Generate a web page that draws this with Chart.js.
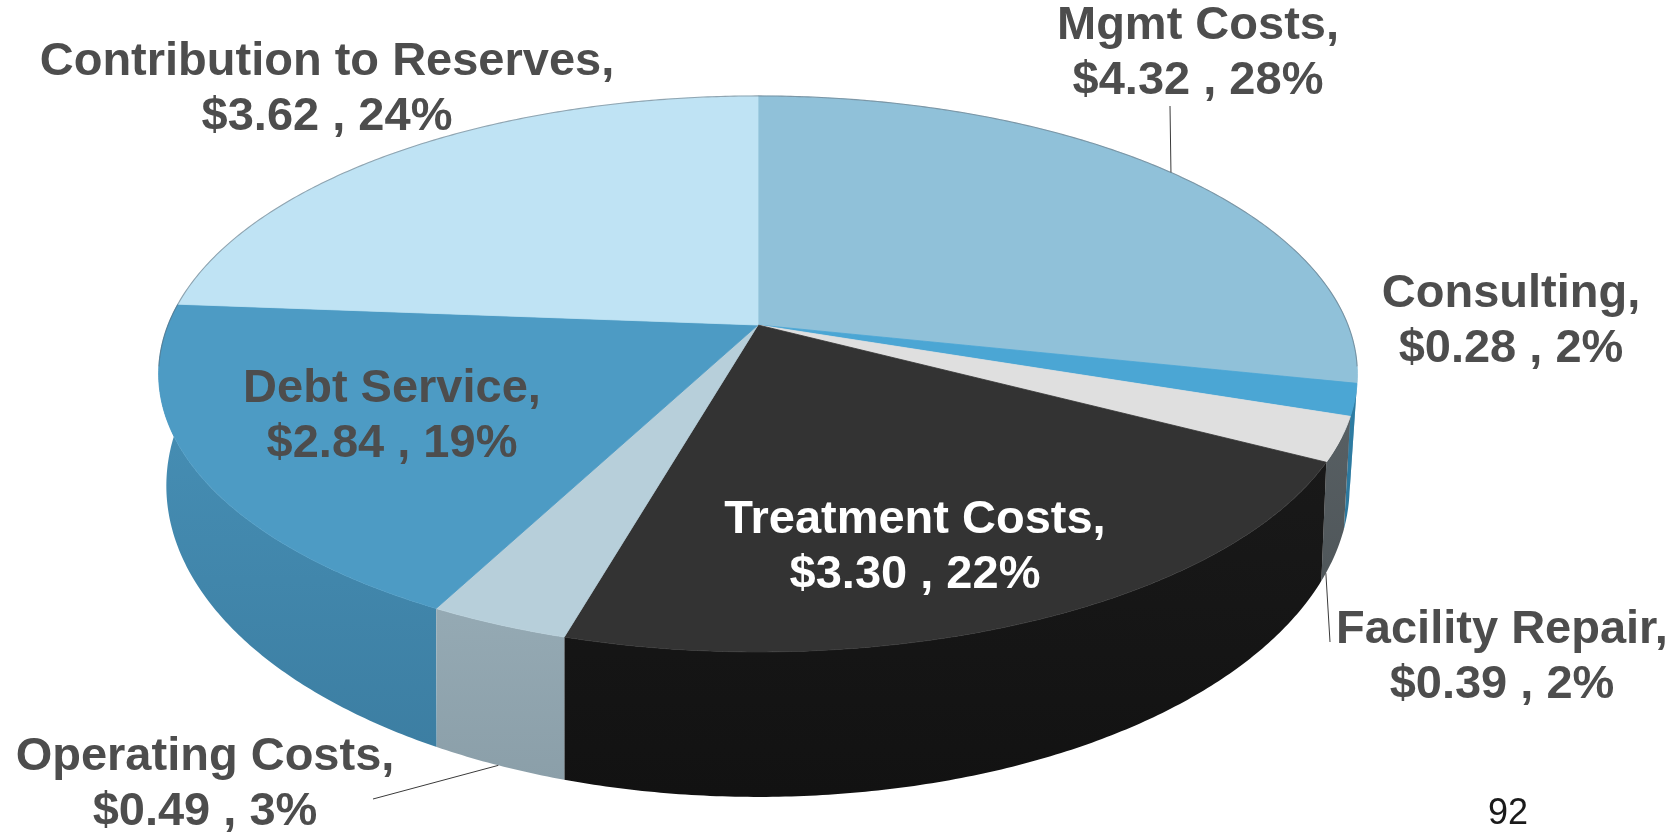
<!DOCTYPE html>
<html>
<head>
<meta charset="utf-8">
<script src="https://cdn.jsdelivr.net/npm/chart.js@4/dist/chart.umd.min.js"></script>
<style>
  html, body { margin: 0; padding: 0; background: #ffffff; overflow: hidden; }
  canvas { display: block; }
</style>
</head>
<body>
<canvas id="pie" width="1672" height="837"></canvas>
<script>
// Annual cost breakdown ($ millions) and the shares printed beside each slice
const categories = ['Mgmt Costs', 'Consulting', 'Facility Repair', 'Treatment Costs',
                    'Operating Costs', 'Debt Service', 'Contribution to Reserves'];
const costs = [4.32, 0.28, 0.39, 3.30, 0.49, 2.84, 3.62];
const sharePercents = [28, 2, 2, 22, 3, 19, 24];
const pageNumber = '92';

// Slice styling: upper face colour and outer wall colours (upper / lower shade)
const faceColors = ['#90c1d9', '#4ba6d4', '#dfdfdf', '#333333', '#b7cfda', '#4d9bc4', '#bfe3f4'];
const wallColors = [
  ['#7fb2cc', '#6fa2bd'],
  ['#2f7fa6', '#27698a'],
  ['#5a6266', '#454b4e'],
  ['#1b1b1b', '#121212'],
  ['#a3b9c3', '#8a9ea8'],
  ['#4790b6', '#3b7ca0'],
  ['#a9d0e2', '#96bfd2']
];
const labelColors = ['#4d4d4d', '#4d4d4d', '#4d4d4d', '#ffffff', '#4d4d4d', '#4d4d4d', '#4d4d4d'];

// Tilted-disc projection: upper and lower rims of the pie
const rims = {
  top:    { dy: 0,   rx: 590, ry: 269.4, k: 0.176 },
  bottom: { dy: 102, rx: 581, ry: 300,   k: 0.189 }
};
function rimPoint(rim, cx, cy, a) {
  const s = Math.sin(a), c = Math.cos(a);
  const d = 1 - rim.k * s;
  return [cx + rim.rx * c / d, cy + rim.dy + rim.ry * s / d];
}

// Label anchors (centre x, first baseline) and leader-line ends
const labelLayout = {
  anchors: [[1198, 39], [1511, 307], [1502, 643], [915, 533], [205, 770], [392, 402], [327, 75]],
  lineGap: 55,
  leaders: {
    0: { from: [1170, 106], rim: 'top', at: 0.5 },
    2: { from: [1330, 642], rim: 'bottom', at: 0.85 },
    4: { from: [373, 799], rim: 'bottom', at: 0.5 }
  }
};

const STEP = Math.PI / 360;

function tracePath(ctx, rim, cx, cy, a0, a1, first) {
  const n = Math.max(2, Math.ceil(Math.abs(a1 - a0) / STEP));
  for (let j = 0; j <= n; j++) {
    const a = a0 + (a1 - a0) * j / n;
    const p = rimPoint(rim, cx, cy, a);
    if (j === 0 && first) ctx.moveTo(p[0], p[1]); else ctx.lineTo(p[0], p[1]);
  }
}

const pie3d = {
  id: 'pie3d',
  beforeDatasetsDraw(chart) {
    const ctx = chart.ctx;
    const arcs = chart.getDatasetMeta(0).data;
    const cx = arcs[0].x, cy = arcs[0].y;
    const wallFrom = -0.3, wallTo = Math.PI + 0.3;

    // outer walls, farthest first
    const walls = [];
    arcs.forEach((arc, i) => {
      const a0 = Math.max(arc.startAngle, wallFrom);
      const a1 = Math.min(arc.endAngle, wallTo);
      if (a1 > a0) walls.push({ i, a0, a1, depth: Math.sin((a0 + a1) / 2) });
    });
    walls.sort((p, q) => p.depth - q.depth);
    walls.forEach(w => {
      ctx.beginPath();
      tracePath(ctx, rims.top, cx, cy, w.a0, w.a1, true);
      tracePath(ctx, rims.bottom, cx, cy, w.a1, w.a0, false);
      ctx.closePath();
      const g = ctx.createLinearGradient(0, cy + 40, 0, cy + 470);
      g.addColorStop(0, wallColors[w.i][0]);
      g.addColorStop(1, wallColors[w.i][1]);
      ctx.fillStyle = g;
      ctx.fill();
    });

    // upper faces
    arcs.forEach((arc, i) => {
      ctx.beginPath();
      ctx.moveTo(cx, cy);
      tracePath(ctx, rims.top, cx, cy, arc.startAngle, arc.endAngle, false);
      ctx.closePath();
      ctx.fillStyle = faceColors[i];
      ctx.fill();
      ctx.strokeStyle = faceColors[i];
      ctx.lineWidth = 0.8;
      ctx.stroke();
    });

    // thin rim along the far edge
    ctx.beginPath();
    tracePath(ctx, rims.top, cx, cy, Math.PI - 0.15, 2 * Math.PI + 0.15, true);
    ctx.strokeStyle = 'rgba(90,100,110,0.5)';
    ctx.lineWidth = 1.1;
    ctx.stroke();
    return false;
  },
  afterDraw(chart) {
    const ctx = chart.ctx;
    const arcs = chart.getDatasetMeta(0).data;
    const cx = arcs[0].x, cy = arcs[0].y;

    // leader lines
    ctx.save();
    ctx.strokeStyle = '#3a3a3a';
    ctx.lineWidth = 1;
    Object.keys(labelLayout.leaders).forEach(key => {
      const i = +key, ld = labelLayout.leaders[key];
      const arc = arcs[i];
      const a = arc.startAngle + (arc.endAngle - arc.startAngle) * ld.at;
      const p = rimPoint(rims[ld.rim], cx, cy, a);
      ctx.beginPath();
      ctx.moveTo(ld.from[0], ld.from[1]);
      ctx.lineTo(p[0], p[1]);
      ctx.stroke();
    });

    // data labels
    ctx.font = "bold 47px 'Liberation Sans', Arial, sans-serif";
    ctx.textAlign = 'center';
    ctx.textBaseline = 'alphabetic';
    categories.forEach((name, i) => {
      const [x, y] = labelLayout.anchors[i];
      ctx.fillStyle = labelColors[i];
      ctx.fillText(name + ',', x, y);
      ctx.fillText('$' + costs[i].toFixed(2) + ' , ' + sharePercents[i] + '%', x, y + labelLayout.lineGap);
    });

    // page number
    ctx.font = "36px 'Liberation Sans', Arial, sans-serif";
    ctx.fillStyle = '#1a1a1a';
    ctx.fillText(pageNumber, 1508, 824);
    ctx.restore();
  }
};

new Chart(document.getElementById('pie'), {
  type: 'pie',
  data: {
    labels: categories,
    datasets: [{ data: costs, backgroundColor: faceColors, borderWidth: 0 }]
  },
  options: {
    responsive: false,
    animation: false,
    devicePixelRatio: 1,
    layout: { padding: { left: 0, right: 156, top: 0, bottom: 187 } },
    plugins: {
      legend: { display: false },
      tooltip: { enabled: false }
    }
  },
  plugins: [pie3d]
});
</script>
</body>
</html>
